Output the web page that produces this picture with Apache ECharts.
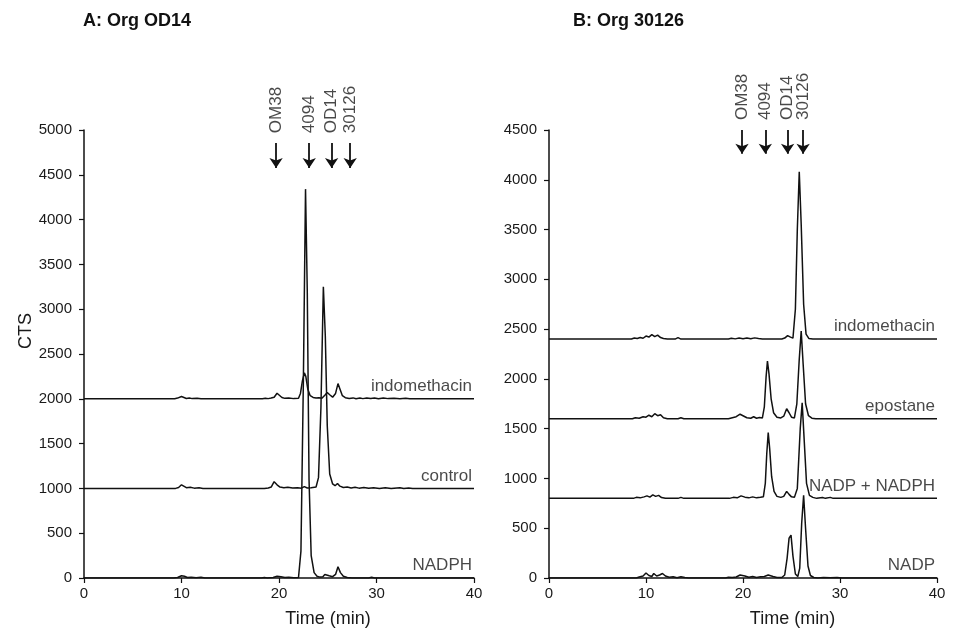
<!DOCTYPE html>
<html>
<head>
<meta charset="utf-8">
<title>HPLC radiochromatograms</title>
<script src="https://cdn.jsdelivr.net/npm/echarts@6/dist/echarts.min.js"></script>
<style>
  html, body { margin: 0; padding: 0; background: #ffffff; }
  #chart { width: 953px; height: 638px; }
</style>
</head>
<body>
<div id="chart"></div>
<script>
// ---- Panel A: Org OD14 (signal in CTS above each trace's offset) ----
const panelATitle = 'A: Org OD14';
const panelANames = ['indomethacin', 'control', 'NADPH'];
const panelAOffsets = [2000, 1000, 0];
const panelAIndomethacin = [
  [0,0],[9.3,0],[9.6,8],[9.8,4],[10.0,25],[10.2,12],[10.5,4],[10.8,10],[11.1,2],[11.6,6],[12.0,0],
  [18.3,0],[18.6,6],[18.9,2],[19.2,8],[19.5,18],[19.8,62],[20.0,60],[20.3,15],[20.6,5],[21.0,8],[21.5,2],[22.0,6],
  [22.2,60],[22.4,200],[22.6,290],[22.75,250],[22.95,110],[23.2,35],[23.5,15],[23.8,8],[24.1,12],[24.4,5],
  [24.7,40],[24.95,70],[25.2,45],[25.5,18],[25.8,60],[26.05,170],[26.25,110],[26.5,35],[26.8,12],[27.2,4],
  [27.6,10],[27.9,0],[28.3,8],[28.6,2],[29.0,10],[29.4,3],[29.8,8],[30.2,0],[30.7,8],[31.2,2],[31.8,6],
  [32.4,0],[33.0,6],[33.4,0],[40,0]
];
const panelAControl = [
  [0,0],[9.4,0],[9.7,10],[10.0,40],[10.2,30],[10.5,8],[10.9,12],[11.3,3],[11.8,6],[12.2,0],
  [18.5,0],[18.9,5],[19.2,15],[19.5,75],[19.8,40],[20.1,15],[20.5,8],[20.9,12],[21.4,4],[21.9,8],[22.3,3],
  [22.6,20],[22.9,5],[23.3,8],[23.8,15],
  [24.05,120],[24.3,900],[24.55,2250],[24.75,1700],[24.95,700],[25.2,160],[25.5,50],[25.75,30],[26.0,55],
  [26.25,25],[26.6,10],[27.0,15],[27.4,4],[27.8,12],[28.2,3],[28.7,10],[29.2,2],[29.7,8],[30.3,0],[30.9,6],
  [31.5,0],[32.4,8],[32.8,0],[33.3,5],[33.7,0],[40,0]
];
const panelANadph = [
  [0,0],[9.2,0],[9.6,5],[10.0,25],[10.3,20],[10.6,5],[11.0,8],[11.5,3],[12.0,8],[12.4,0],
  [18.2,0],[18.5,5],[18.8,0],[19.4,5],[19.8,20],[20.2,15],[20.6,5],[21.0,8],[21.5,3],[22.0,6],
  [22.25,300],[22.5,2200],[22.72,4340],[22.9,3200],[23.08,1100],[23.3,250],[23.6,60],[23.9,20],[24.2,10],
  [24.5,15],[24.7,40],[24.9,60],[25.15,25],[25.5,15],[25.8,40],[26.05,125],[26.3,60],[26.6,20],[27.0,5],
  [27.5,0],[29.2,0],[29.5,8],[29.8,0],[40,0]
];

// ---- Panel B: Org 30126 ----
const panelBTitle = 'B: Org 30126';
const panelBNames = ['indomethacin', 'epostane', 'NADP + NADPH', 'NADP'];
const panelBOffsets = [2400, 1600, 800, 0];
const panelBIndomethacin = [
  [0,0],[8.5,0],[8.8,10],[9.1,5],[9.4,15],[9.7,8],[10.0,30],[10.3,20],[10.6,45],[10.9,25],[11.2,40],
  [11.5,15],[11.8,5],[12.2,0],[13.0,0],[13.3,15],[13.6,0],[18.5,0],[18.8,8],[19.2,2],[19.6,10],[20.0,4],
  [20.4,10],[20.8,3],[21.2,12],[21.6,5],[22.0,0],[24.0,0],[24.3,10],[24.6,35],[24.9,20],[25.15,10],
  [25.4,300],[25.6,1100],[25.8,1680],[26.0,1150],[26.25,350],[26.5,50],[26.8,5],[27.2,0],[40,0]
];
const panelBEpostane = [
  [0,0],[8.6,0],[8.9,10],[9.3,5],[9.7,20],[10.0,15],[10.3,35],[10.6,20],[10.9,50],[11.2,30],[11.5,40],
  [11.8,10],[12.2,0],[13.3,0],[13.6,10],[13.9,0],
  [18.5,0],[18.9,10],[19.3,20],[19.7,45],[20.0,30],[20.4,10],[20.8,5],[21.1,20],[21.4,5],[21.7,12],[22.0,8],
  [22.2,120],[22.38,420],[22.52,580],[22.68,450],[22.9,200],[23.15,60],[23.5,15],[23.9,8],[24.2,25],
  [24.5,100],[24.75,60],[25.0,15],[25.3,8],[25.55,150],[25.8,600],[26.0,880],[26.2,550],[26.45,150],
  [26.75,30],[27.1,5],[27.5,0],[28.6,0],[28.8,12],[29.0,0],[40,0]
];
const panelBNadpNadph = [
  [0,0],[8.7,0],[9.0,10],[9.4,5],[9.8,15],[10.1,25],[10.4,12],[10.7,35],[11.0,20],[11.3,30],[11.6,8],
  [12.0,0],[13.3,0],[13.6,10],[13.9,0],
  [18.6,0],[19.0,10],[19.4,5],[19.8,25],[20.2,12],[20.6,5],[21.0,15],[21.4,5],[21.8,10],[22.1,15],
  [22.3,150],[22.45,450],[22.6,660],[22.75,500],[22.95,220],[23.2,70],[23.5,20],[23.9,10],[24.2,20],
  [24.5,70],[24.75,40],[25.0,15],[25.3,10],[25.6,100],[25.9,700],[26.1,960],[26.3,600],[26.55,150],
  [26.85,30],[27.2,10],[27.6,0],[28.2,8],[28.5,0],[29.0,10],[29.3,0],[40,0]
];
const panelBNadp = [
  [0,0],[9.0,0],[9.3,10],[9.7,20],[10.0,50],[10.3,25],[10.6,15],[10.8,45],[11.1,20],[11.4,30],[11.7,45],
  [12.0,20],[12.4,8],[12.8,12],[13.2,3],[13.6,12],[14.0,4],[14.4,0],
  [18.2,0],[18.5,8],[18.9,4],[19.3,10],[19.7,30],[19.9,45],[20.2,20],[20.6,8],[21.0,15],[21.4,5],[21.8,12],
  [22.2,15],[22.6,30],[22.8,45],[23.1,15],[23.5,5],[24.0,5],
  [24.3,30],[24.55,200],[24.75,400],[24.95,430],[25.15,220],[25.4,40],[25.65,15],[25.85,100],[26.05,550],
  [26.25,830],[26.45,500],[26.7,120],[26.95,25],[27.3,5],[27.7,0],[28.3,5],[29.0,3],[29.7,5],[30.2,0],
  [31.4,0],[31.6,8],[31.8,0],[32.3,0],[32.5,6],[32.7,0],[40,0]
];

// Retention times (min) of the reference standards marked by arrows
const standardNames = ['OM38', '4094', 'OD14', '30126'];
const panelAStandardTimes = [19.7, 23.1, 25.4, 27.3];
const panelBStandardTimes = [19.9, 22.3, 24.6, 26.2];

// Axis ticks
const xTicks = { min: 0, max: 40, interval: 10 };
const panelAYTicks = { min: 0, max: 5000, interval: 500 };
const panelBYTicks = { min: 0, max: 4500, interval: 500 };

const INK = '#111111';
const TEXT = '#1a1a1a';
const FONT = 'Liberation Sans, Arial, Helvetica, sans-serif';

function shifted(trace, offset) {
  return trace.map(p => [p[0], p[1] + offset]);
}

function plainNumber(v) {
  return String(v);
}

function xAxisFor(gridIndex, shiftPad) {
  return {
    type: 'value', gridIndex,
    min: xTicks.min, max: xTicks.max, interval: xTicks.interval,
    name: 'Time (min)', nameLocation: 'middle', nameGap: 32,
    nameTextStyle: { color: TEXT, fontSize: 18, fontFamily: FONT, padding: [0, 0, 0, shiftPad] },
    axisLine: { show: true, onZero: false, lineStyle: { color: INK, width: 1.5 } },
    axisTick: { show: true, length: 5, lineStyle: { color: INK, width: 1.2 } },
    axisLabel: { color: TEXT, fontSize: 15, fontFamily: FONT, margin: 8, formatter: plainNumber },
    splitLine: { show: false }
  };
}

function yAxisFor(gridIndex, ticks, name) {
  return {
    type: 'value', gridIndex,
    min: ticks.min, max: ticks.max, interval: ticks.interval,
    name: name, nameLocation: 'middle', nameGap: 44, nameRotate: 90,
    nameTextStyle: { color: TEXT, fontSize: 18, fontFamily: FONT, padding: [0, 0, 0, 46] },
    axisLine: { show: true, onZero: false, lineStyle: { color: INK, width: 1.5 } },
    axisTick: { show: true, length: 5, lineStyle: { color: INK, width: 1.2 } },
    axisLabel: { color: TEXT, fontSize: 15, fontFamily: FONT, margin: 12, formatter: plainNumber },
    splitLine: { show: false }
  };
}

function traceSeries(axisIndex, name, trace, offset) {
  return {
    type: 'line', name, xAxisIndex: axisIndex, yAxisIndex: axisIndex,
    data: shifted(trace, offset),
    showSymbol: false, symbol: 'none', smooth: false, silent: true,
    lineStyle: { color: INK, width: 1.5 },
    z: 3
  };
}

function traceLabels(axisIndex, names, offsets, lift) {
  return {
    type: 'scatter', xAxisIndex: axisIndex, yAxisIndex: axisIndex,
    symbolSize: 0, silent: true, clip: false,
    data: names.map((n, i) => ({ name: n, value: [xTicks.max, offsets[i]] })),
    label: {
      show: true, position: 'inside', formatter: '{b}',
      align: 'right', verticalAlign: 'bottom', offset: [-2, -lift],
      color: TEXT, fontSize: 17, fontFamily: FONT
    }
  };
}

function arrowSeries(axisIndex, times, top, bottom) {
  return {
    type: 'line', xAxisIndex: axisIndex, yAxisIndex: axisIndex, data: [], silent: true,
    markLine: {
      silent: true, symbol: ['none', 'arrow'], symbolSize: 10,
      label: { show: false },
      itemStyle: { color: INK },
      lineStyle: { color: INK, width: 1.8, type: 'solid' },
      emphasis: { disabled: true },
      data: times.map(t => [{ coord: [t, top] }, { coord: [t, bottom] }])
    }
  };
}

function standardLabels(axisIndex, times, yVal) {
  return {
    type: 'scatter', xAxisIndex: axisIndex, yAxisIndex: axisIndex,
    symbolSize: 0, silent: true, clip: false,
    data: standardNames.map((n, i) => ({ name: n, value: [times[i], yVal] })),
    label: {
      show: true, position: 'inside', formatter: '{b}', rotate: 90,
      align: 'left', verticalAlign: 'middle',
      color: TEXT, fontSize: 17, fontFamily: FONT
    }
  };
}

const chart = echarts.init(document.getElementById('chart'), null, { renderer: 'canvas' });

const option = {
  backgroundColor: '#ffffff',
  animation: false,
  title: [
    { text: panelATitle, left: 78, top: 7, textStyle: { color: INK, fontSize: 18, fontWeight: 'bold', fontFamily: FONT } },
    { text: panelBTitle, left: 568, top: 7, textStyle: { color: INK, fontSize: 18, fontWeight: 'bold', fontFamily: FONT } }
  ],
  grid: [
    { left: 84, right: 479, top: 130, bottom: 60, containLabel: false },
    { left: 549, right: 16, top: 130, bottom: 60, containLabel: false }
  ],
  xAxis: [xAxisFor(0, 98), xAxisFor(1, 99)],
  yAxis: [yAxisFor(0, panelAYTicks, 'CTS'), yAxisFor(1, panelBYTicks, '')],
  series: [
    traceSeries(0, panelANames[0], panelAIndomethacin, panelAOffsets[0]),
    traceSeries(0, panelANames[1], panelAControl, panelAOffsets[1]),
    traceSeries(0, panelANames[2], panelANadph, panelAOffsets[2]),
    traceLabels(0, panelANames, panelAOffsets, 4),
    arrowSeries(0, panelAStandardTimes, 4855, 4576),
    standardLabels(0, panelAStandardTimes, 4965),

    traceSeries(1, panelBNames[0], panelBIndomethacin, panelBOffsets[0]),
    traceSeries(1, panelBNames[1], panelBEpostane, panelBOffsets[1]),
    traceSeries(1, panelBNames[2], panelBNadpNadph, panelBOffsets[2]),
    traceSeries(1, panelBNames[3], panelBNadp, panelBOffsets[3]),
    traceLabels(1, panelBNames, panelBOffsets, 4),
    arrowSeries(1, panelBStandardTimes, 4500, 4262),
    standardLabels(1, panelBStandardTimes, 4600)
  ]
};

chart.setOption(option);
</script>
</body>
</html>
